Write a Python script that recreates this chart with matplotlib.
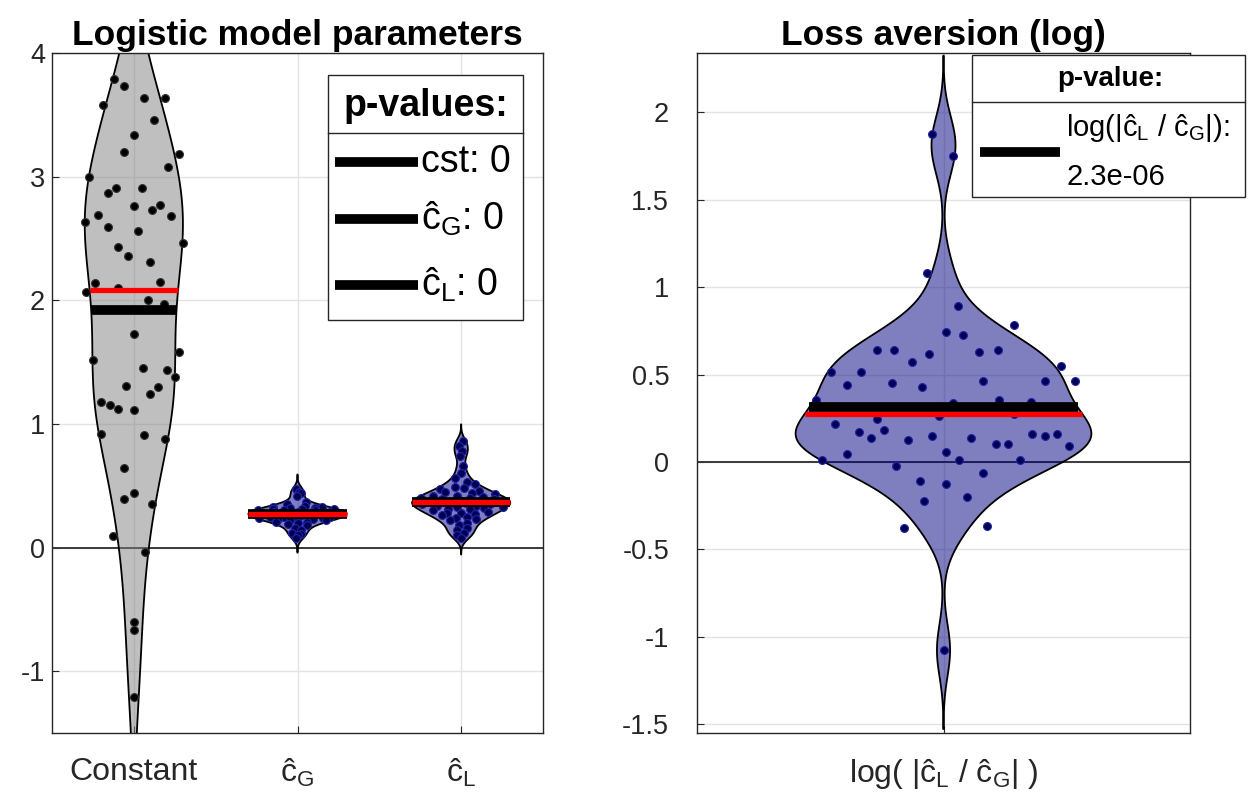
import numpy as np
import matplotlib.pyplot as plt
from matplotlib.patches import Rectangle
from matplotlib.lines import Line2D
from matplotlib.colors import to_rgba

plt.rcParams['font.family'] = ['Liberation Sans', 'DejaVu Sans']
plt.rcParams['mathtext.fontset'] = 'custom'
plt.rcParams['mathtext.rm'] = 'Liberation Sans'
plt.rcParams['mathtext.it'] = 'Liberation Sans'
plt.rcParams['mathtext.default'] = 'regular'

# ---- data ----
cst_vals = [3.79, 3.73, 3.64, 3.64, 3.58, 3.46, 3.34, 3.20, 3.18, 3.08,
            3.00, 2.91, 2.87, 2.91, 2.76, 2.73, 2.77, 2.68, 2.69, 2.63,
            2.59, 2.56, 2.46, 2.43, 2.36, 2.31, 2.14, 2.15, 2.10, 2.07,
            2.00, 1.97, 1.73, 1.58, 1.52, 1.45, 1.44, 1.38, 1.31, 1.24,
            1.30, 1.18, 1.15, 1.12, 1.11, 0.92, 0.91, 0.88, 0.64, 0.39,
            0.44, 0.35, 0.09, -0.04, -0.60, -0.67, -1.21]
cst_dx = [-0.123, -0.063, 0.063, 0.188, -0.19, 0.126, 0.0, -0.063, 0.274, 0.209,
          -0.272, -0.109, -0.16, 0.049, 0.0, 0.109, 0.162, 0.225, -0.221, -0.298,
          -0.16, 0.026, 0.302, -0.097, -0.036, 0.097, -0.237, 0.162, -0.099, -0.29,
          0.089, 0.187, 0.0, 0.275, -0.247, 0.053, 0.2, 0.251, -0.049, 0.099,
          0.15, -0.2, -0.148, -0.097, 0.0, -0.199, 0.063, 0.19, -0.063, -0.063,
          0.0, 0.111, -0.128, 0.069, 0.0, 0.0, 0.0]

cG_vals = [0.47, 0.45, 0.44, 0.42, 0.37, 0.35, 0.34, 0.33, 0.33, 0.32,
           0.32, 0.31, 0.31, 0.31, 0.30, 0.30, 0.30, 0.29, 0.29, 0.29,
           0.29, 0.28, 0.28, 0.28, 0.28, 0.27, 0.27, 0.27, 0.26, 0.26,
           0.26, 0.26, 0.25, 0.25, 0.25, 0.25, 0.24, 0.24, 0.24, 0.23,
           0.23, 0.22, 0.22, 0.21, 0.21, 0.20, 0.19, 0.18, 0.16, 0.14,
           0.12, 0.11, 0.10, 0.08]
cG_jit = [-0.3, 0.2, 0.5, -0.1, 0.6, -0.5, 0.3, -0.8, 0.8, -0.2,
          0.5, -0.6, 0.1, 0.9, -0.9, 0.4, -0.3, 0.7, -0.5, 0.0,
          0.3, -0.7, 0.6, -0.1, 0.9, -0.4, 0.2, 0.8, -0.8, -0.2,
          0.5, 0.1, -0.6, 0.3, 0.7, -0.3, -0.9, 0.0, 0.6, -0.5,
          0.4, -0.2, 0.8, -0.7, 0.3, 0.0, -0.4, 0.5, -0.2, 0.3,
          -0.5, 0.4, 0.0, -0.3]

cL_vals = [0.86, 0.82, 0.78, 0.74, 0.66, 0.60, 0.56, 0.53, 0.51, 0.49,
           0.48, 0.47, 0.46, 0.45, 0.44, 0.43, 0.42, 0.42, 0.41, 0.40,
           0.40, 0.39, 0.39, 0.38, 0.38, 0.37, 0.37, 0.36, 0.36, 0.35,
           0.35, 0.34, 0.34, 0.33, 0.33, 0.32, 0.31, 0.31, 0.30, 0.29,
           0.28, 0.28, 0.27, 0.26, 0.25, 0.24, 0.23, 0.22, 0.20, 0.18,
           0.16, 0.14, 0.12, 0.10, 0.08]
cL_jit = [0.3, -0.4, 0.2, -0.2, 0.5, 0.0, -0.6, 0.4, 0.8, -0.3,
          0.1, -0.8, 0.6, -0.5, 0.3, 0.9, -0.1, -0.7, 0.5, 0.2,
          -0.9, 0.7, -0.4, 0.0, 0.4, -0.6, 0.8, -0.2, 0.1, 0.6,
          -0.8, 0.3, -0.5, 0.9, -0.1, 0.5, -0.3, 0.2, -0.7, 0.7,
          0.0, -0.4, 0.4, -0.6, 0.2, -0.2, 0.6, -0.5, 0.3, -0.1,
          0.4, -0.3, 0.2, -0.4, 0.0]

ratio_vals = [1.875, 1.748, 1.082, 0.894, 0.783, 0.745, 0.724, 0.64, 0.64, 0.619,
              0.63, 0.64, 0.571, 0.55, 0.516, 0.516, 0.443, 0.454, 0.43, 0.466,
              0.466, 0.466, 0.354, 0.34, 0.354, 0.346, 0.245, 0.264, 0.273, 0.22,
              0.174, 0.185, 0.14, 0.128, 0.149, 0.14, 0.101, 0.101, 0.162, 0.151,
              0.162, 0.09, 0.044, 0.057, 0.01, 0.01, 0.01, -0.025, -0.061, -0.109,
              -0.128, -0.2, -0.224, -0.376, -0.363, -1.077]
ratio_dx = [-0.023, 0.02, -0.033, 0.029, 0.144, 0.006, 0.04, -0.134, -0.10, -0.03,
            0.073, 0.11, -0.063, 0.238, -0.229, -0.167, -0.196, -0.104, -0.043, 0.081,
            0.205, 0.267, -0.259, 0.019, 0.113, 0.177, -0.134, -0.01, 0.142, -0.221,
            -0.171, -0.121, -0.147, -0.071, -0.023, 0.056, 0.106, 0.131, 0.18, 0.205,
            0.23, 0.255, -0.196, 0.006, -0.247, 0.031, 0.155, -0.097, 0.081, -0.047,
            0.006, 0.048, -0.039, -0.08, 0.089, 0.0]

# black (median) and red (mean) lines
medians = [1.92, 0.275, 0.365]
means = [2.08, 0.275, 0.365]
ratio_median, ratio_mean = 0.315, 0.277

left_labels = ['Constant', 'ĉ$_G$', 'ĉ$_L$']


def kde(vals, bw):
    v = np.asarray(vals)
    y = np.linspace(v.min() - 3 * bw, v.max() + 3 * bw, 300)
    d = np.exp(-0.5 * ((y[:, None] - v[None, :]) / bw) ** 2).sum(1)
    return y, d / d.max()


def violin(ax, pos, vals, bw, face, dotface, dotedge, dx=None, jit=None,
           med=None, mean=None):
    y, d = kde(vals, bw)
    w = 0.3 * d
    ax.fill(np.r_[pos - w, (pos + w)[::-1]], np.r_[y, y[::-1]],
            facecolor=to_rgba(face, 0.5), edgecolor='k', lw=1.3, zorder=2)
    vals = np.asarray(vals)
    if dx is not None:
        xs = pos + np.asarray(dx)
    else:
        xs = pos + np.asarray(jit) * np.interp(vals, y, w)
    ax.scatter(xs, vals, s=32, facecolor=dotface, edgecolor=dotedge,
               lw=0.8, zorder=3)
    wm = np.interp(med, y, w)
    ax.plot([pos - wm, pos + wm], [med, med], color='k', lw=7,
            solid_capstyle='butt', zorder=4)
    wm = np.interp(mean, y, w)
    ax.plot([pos - wm, pos + wm], [mean, mean], color='red', lw=3.8,
            solid_capstyle='butt', zorder=5)


fig = plt.figure(figsize=(12.53, 7.98), dpi=100)
W, H = 1253, 798


def box(x0, y0, x1, y1):
    return [x0 / W, 1 - y1 / H, (x1 - x0) / W, (y1 - y0) / H]


ax1 = fig.add_axes(box(52, 53, 543, 733))
ax2 = fig.add_axes(box(697, 53, 1190, 733))

for ax in (ax1, ax2):
    ax.grid(True, color='#e3e3e3', lw=1.0, zorder=0)
    ax.set_axisbelow(True)
    ax.axhline(0, color='#3a3a3a', lw=1.4, zorder=1.5)
    ax.tick_params(direction='in', length=5, labelsize=19.5, colors='#262626')
    ax.tick_params(axis='x', labelsize=23, pad=17)
    for sp in ax.spines.values():
        sp.set_color('#262626')
        sp.set_linewidth(1.0)

violin(ax1, 1, cst_vals, 0.5, 'gray', 'k', '#333333', dx=cst_dx,
       med=medians[0], mean=means[0])
violin(ax1, 2, cG_vals, 0.04, 'navy', '#000050', '#2222aa', jit=cG_jit,
       med=medians[1], mean=means[1])
violin(ax1, 3, cL_vals, 0.045, 'navy', '#000050', '#2222aa', jit=cL_jit,
       med=medians[2], mean=means[2])
ax1.set_xlim(0.5, 3.5)
ax1.set_ylim(-1.5, 4)
ax1.set_yticks([-1, 0, 1, 2, 3, 4])
ax1.set_yticklabels(['-1', '0', '1', '2', '3', '4'])
ax1.set_xticks([1, 2, 3])
ax1.set_xticklabels(left_labels)
ax1.tick_params(axis='y', pad=5)
ax1.set_title('Logistic model parameters', fontweight='bold', fontsize=25.5, pad=6)

violin(ax2, 1, ratio_vals, 0.15, 'navy', '#000050', '#2222aa', dx=ratio_dx,
       med=ratio_median, mean=ratio_mean)
ax2.set_xlim(0.5, 1.5)
ax2.set_ylim(-1.55, 2.34)
ax2.set_yticks([-1.5, -1, -0.5, 0, 0.5, 1, 1.5, 2])
ax2.set_yticklabels(['-1.5', '-1', '-0.5', '0', '0.5', '1', '1.5', '2'])
ax2.set_xticks([1])
ax2.set_xticklabels(['log( |ĉ$_L$ / ĉ$_G$| )'])
ax2.tick_params(axis='y', pad=20)
ax2.set_title('Loss aversion (log)', fontweight='bold', fontsize=25.5, pad=6)


# ---- legends drawn as boxes in figure pixels ----
def fx(x):
    return x / W


def fy(y):
    return 1 - y / H


def legend_box(x0, y0, x1, y1, sep):
    fig.add_artist(Rectangle((fx(x0), fy(y1)), fx(x1) - fx(x0), fy(y0) - fy(y1),
                             transform=fig.transFigure, facecolor='white',
                             edgecolor='#262626', lw=1.0, zorder=10))
    fig.add_artist(Line2D([fx(x0), fx(x1)], [fy(sep), fy(sep)],
                          transform=fig.transFigure, color='#262626', lw=1.0, zorder=11))


def legend_line(x0, x1, y):
    fig.add_artist(Line2D([fx(x0), fx(x1)], [fy(y), fy(y)], transform=fig.transFigure,
                          color='k', lw=7, solid_capstyle='butt', zorder=11))


legend_box(328, 75, 523, 320, 133)
fig.text(fx(426), fy(106), 'p-values:', fontsize=27, fontweight='bold',
         ha='center', va='center', zorder=12)
entries = ['cst: 0', 'ĉ$_G$: 0', 'ĉ$_L$: 0']
for txt, yy in zip(entries, [162, 219, 285]):
    legend_line(335, 418, yy)
    fig.text(fx(421), fy(yy), txt, fontsize=27, ha='left', va='center', zorder=12)

legend_box(972, 55, 1245, 197, 102)
fig.text(fx(1110), fy(79), 'p-value:', fontsize=20, fontweight='bold',
         ha='center', va='center', zorder=12)
legend_line(980, 1060, 152)
fig.text(fx(1066), fy(128), 'log(|ĉ$_L$ / ĉ$_G$|):', fontsize=21,
         ha='left', va='center', zorder=12)
fig.text(fx(1066), fy(177), '2.3e-06', fontsize=21, ha='left', va='center', zorder=12)

fig.savefig('out.png', dpi=100, facecolor='white')
